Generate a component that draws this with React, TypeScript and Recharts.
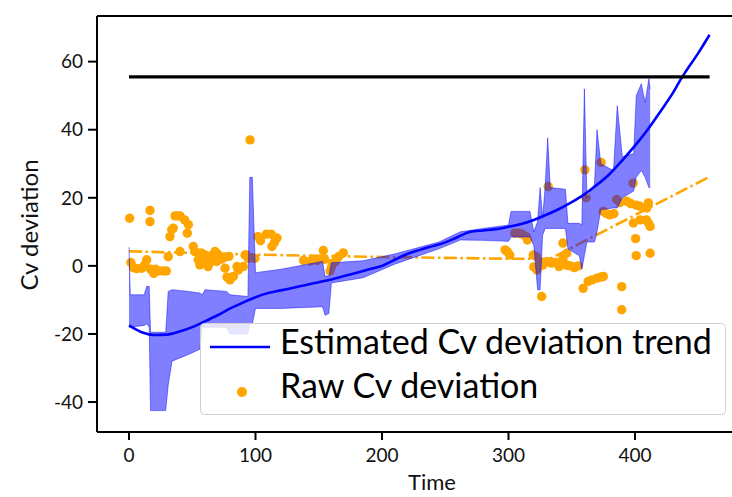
import React from 'react';
import { ComposedChart, Line, Area, Scatter, XAxis, YAxis, ReferenceLine } from 'recharts';

const FONT = 'Lato, Carlito, "Open Sans", sans-serif';

const X_MIN = -25.3;
const X_MAX = 476.7;
const Y_MIN = -48.8;
const Y_MAX = 73.4;

const xTicks = [0, 100, 200, 300, 400];
const yTicks = [-40, -20, 0, 20, 40, 60];
const xLabel = 'Time';
const yLabel = 'Cv deviation';
const legendLabels = ['Estimated Cv deviation trend', 'Raw Cv deviation'];

// Estimated trend (blue smooth line)
const trendX = [0, 10, 20, 30, 40, 50, 60, 70, 80, 90, 100, 110, 120, 130, 140, 150, 160, 170, 180, 190, 200, 210, 220, 230, 240, 250, 260, 270, 280, 290, 300, 310, 320, 330, 340, 350, 360, 370, 380, 390, 400, 410, 420, 430, 437, 440, 450, 459];
const trendY = [-17.5, -19.5, -20.3, -20.2, -19.3, -18, -16.3, -14.5, -12.5, -10.8, -9.2, -8, -7.2, -6.4, -5.6, -4.8, -4, -3, -2, -1, 0, 1.8, 3.5, 4.7, 5.8, 6.9, 8.5, 10, 10.4, 10.8, 11.5, 12.3, 13.5, 15, 16.7, 18.7, 21, 23.8, 27, 31, 35.3, 40, 45.3, 50.8, 55.3, 57, 62.5, 67.9];

// Orange dash-dot fit
const fitX = [0, 100, 200, 300, 333, 459];
const fitY = [4.3, 3.3, 2.6, 2.1, 2.1, 26.2];

// Horizontal black threshold
const thresholdX = [0, 459];
const thresholdY = [55.5, 55.5];

// Shaded band
const bandX = [0, 1, 12, 14, 16, 17, 29, 31, 34, 47, 56, 58, 60, 77, 80, 94, 95.5, 97.5, 100, 120, 153, 155, 158, 160, 185, 210, 245, 262, 280, 300, 302, 317, 320, 323, 325, 327, 329, 331, 333, 345, 347, 356, 358, 360, 362, 368, 370, 373, 383, 386, 390, 399, 401, 405, 408, 411, 412];
const bandLow = [-18, -18, -17.5, -17, -18, -42.5, -42.5, -35, -28, -26, -24.5, -18, -18, -18, -20, -20, -17, -17, -12.5, -12.5, -12, -14.5, -14, -5, -3.5, 0.5, 5, 7.6, 7.5, 7.2, 8.5, 8.5, 6, -7, -7, 9, 11, 11, 11, 11, 5, 3, -1, 3, 7, 7, 10, 16.5, 17, 17, 20, 22, 26, 28, 26, 23, 23];
const bandHigh = [5.5, -8.5, -8.5, -6, -6, -19.5, -19.5, -7.5, -7, -7.5, -8, -8.5, -7, -7.5, -8.5, -9, 26, 26, -2, -1, 1.3, -3, -3, 0.9, 1.5, 3.5, 7, 10, 11, 12, 16, 16, 10, 13, 23, 14, 23.3, 37.6, 23, 22.5, 12.5, 12.5, 12, 52, 20, 24, 40, 30, 28, 47, 32, 33, 50, 53.5, 48, 55, 52];

// Raw scatter
const rawX = [0.5, 1.5, 3.5, 6, 10, 12.5, 14, 16.6, 16.6, 17, 19.5, 21, 23.5, 27, 29.5, 31,
  32.4, 33.8, 35, 36.4, 38.5, 40.3, 40.3, 44, 46.1, 46.9,
  50.8, 52.1, 54.7, 56, 57, 57, 58.7, 60, 62, 62.5, 65, 65, 67, 68, 69.3, 70, 71, 73, 75.3, 75.9, 77.5, 79, 79.8, 82.5, 85.4, 86.4, 90.3, 91.7, 92.9, 94.3, 95.7, 99.5,
  102, 104, 108.5, 112.5, 113, 115, 117,
  138, 143.5, 148.7, 153.6, 154.7, 159, 160.2, 161, 163, 164.2, 166, 169.4,
  297.3, 299, 301, 305, 308, 311, 314, 315, 319.6, 322, 320, 322.5, 325, 327, 331, 334, 337, 340, 343, 346, 349, 352, 355, 326.2, 331.4, 343, 346, 343,
  359, 363, 366, 370, 373, 375, 360.4, 361.4, 373.2, 374.9, 377, 380, 383.4, 385.5, 388, 389.5, 389.5, 393.4, 396.6, 398.5, 401, 404, 409.3, 410.6, 398.7, 404, 409, 410.6, 412, 400.5, 401, 412];
const rawY = [14, 1, -0.5, -0.8, -0.7, 0.3, 1.8, 16.3, 13, -1, -2.2, -1, -1.5, -1.5, -1.5, 2.7,
  8.6, 10.6, 11.1, 14.7, 14.7, 14.7, 4.2, 13.5, 9.6, 12.1,
  5.7, 4.2, 1.8, 0.3, 3.8, 1.2, 2.5, 3.2, 2, -0.2, 1.2, 3, 2.8, 4.2, 1.3, 3.5, 2.2, 2, 2.5, -0.7, -3.3, 2.8, -4.1, -3.1, -0.2, -1.2, -0.2, 3.2, 3.2, 2.2, 37, 2.2,
  8.6, 7.4, 9.3, 9.3, 5.7, 6.9, 8.2,
  1.6, 1.4, 1.6, 4.5, 1.9, -1.5, -0.2, 0.8, 1.2, 2.2, 2.8, 3.8,
  4.7, 4.2, 3.2, 9.6, 9.6, 9.3, 8.6, 7.6, 3.2, 2.7, -0.3, -1.2, 0.5, 0.2, 1.2, 0.8, 1, -0.2, 1.3, 0.2, 0, -0.5, 0, -9, 23.3, 6.7, 3.7, 2.2,
  -6.6, -4.6, -4.1, -3.6, -3.3, -3.1, 28.2, 20, 30.4, 16, 15.5, 15, 15.3, 19.5, 18.6, -6.1, -12.9, 19, 18.3, 24.3, 17.8, 17.5, 17, 18.5, 12.6, 13.5, 13.5, 12.6, 11.6, 8, 3, 3.7];

const trendData = trendX.map((x, i) => ({ x, y: trendY[i] }));
const fitData = fitX.map((x, i) => ({ x, y: fitY[i] }));
const thresholdData = thresholdX.map((x, i) => ({ x, y: thresholdY[i] }));
const bandData = bandX.map((x, i) => ({ x, range: [bandLow[i], bandHigh[i]] }));
const rawData = rawX.map((x, i) => ({ x, y: rawY[i] }));

const BLUE = '#0000ff';
const ORANGE = '#ffa500';

const Dot = (props: any) => {
  const { cx, cy } = props;
  if (cx == null || cy == null) return null;
  return <circle cx={cx} cy={cy} r={4.7} fill={ORANGE} />;
};

const YLabel = () => (
  <text x={28} y={225} transform="rotate(-90 28 225)" textAnchor="middle" dominantBaseline="central"
    fontFamily={FONT} fontSize={24} fill="#111">{yLabel}</text>
);
const XLabel = () => (
  <text x={432} y={481} textAnchor="middle" dominantBaseline="central"
    fontFamily={FONT} fontSize={22} fill="#111">{xLabel}</text>
);

export default function App() {
  return (
    <div style={{ position: 'absolute', left: 0, top: 0, width: 732, height: 497, background: '#fff' }}>
      <ComposedChart width={732} height={497} margin={{ top: 16, right: 0, bottom: 0, left: 0 }}>
        <XAxis
          type="number"
          dataKey="x"
          domain={[X_MIN, X_MAX]}
          ticks={xTicks}
          allowDataOverflow
          height={65}
          tickSize={8}
          tickMargin={9}
          axisLine={{ stroke: '#000', strokeWidth: 2 }}
          tickLine={{ stroke: '#000', strokeWidth: 2 }}
          tick={{ fill: '#111', fontSize: 19, fontFamily: FONT }}
          label={<XLabel />}
        />
        <YAxis
          type="number"
          domain={[Y_MIN, Y_MAX]}
          ticks={yTicks}
          allowDataOverflow
          width={97}
          tickSize={9}
          tickMargin={5}
          axisLine={{ stroke: '#000', strokeWidth: 2 }}
          tickLine={{ stroke: '#000', strokeWidth: 2 }}
          tick={{ fill: '#111', fontSize: 19, fontFamily: FONT }}
          label={<YLabel />}
        />
        <ReferenceLine y={Y_MAX} stroke="#000" strokeWidth={2} ifOverflow="visible" />
        <Scatter data={rawData} dataKey="y" shape={<Dot />} isAnimationActive={false} zIndex={100} />
        <Line data={fitData} dataKey="y" type="linear" stroke={ORANGE} strokeWidth={2.6}
          strokeDasharray="13 3.5 2.5 3.5" dot={false} activeDot={false} isAnimationActive={false} zIndex={150} />
        <Area data={bandData} dataKey="range" type="linear" fill={BLUE} fillOpacity={0.5}
          stroke={BLUE} strokeOpacity={0.45} strokeWidth={1} dot={false} activeDot={false}
          isAnimationActive={false} zIndex={200} />
        <Line data={trendData} dataKey="y" type="monotone" stroke={BLUE} strokeWidth={2.6}
          dot={false} activeDot={false} isAnimationActive={false} zIndex={300} />
        <Line data={thresholdData} dataKey="y" type="linear" stroke="#000" strokeWidth={3.2}
          dot={false} activeDot={false} isAnimationActive={false} zIndex={350} />
      </ComposedChart>
      <svg width={732} height={497} style={{ position: 'absolute', left: 0, top: 0, pointerEvents: 'none' }}>
        <rect x={200.5} y={323.5} width={525} height={91} rx={4} ry={4}
          fill="#fff" fillOpacity={0.8} stroke="#d0d0d0" strokeWidth={1} />
        <line x1={210} y1={347} x2={270} y2={347} stroke={BLUE} strokeWidth={2.6} />
        <text x={280} y={354} fontFamily={FONT} fontSize={34} fill="#000">{legendLabels[0]}</text>
        <circle cx={242} cy={392} r={5} fill={ORANGE} />
        <text x={280} y={398} fontFamily={FONT} fontSize={34} fill="#000">{legendLabels[1]}</text>
      </svg>
    </div>
  );
}
